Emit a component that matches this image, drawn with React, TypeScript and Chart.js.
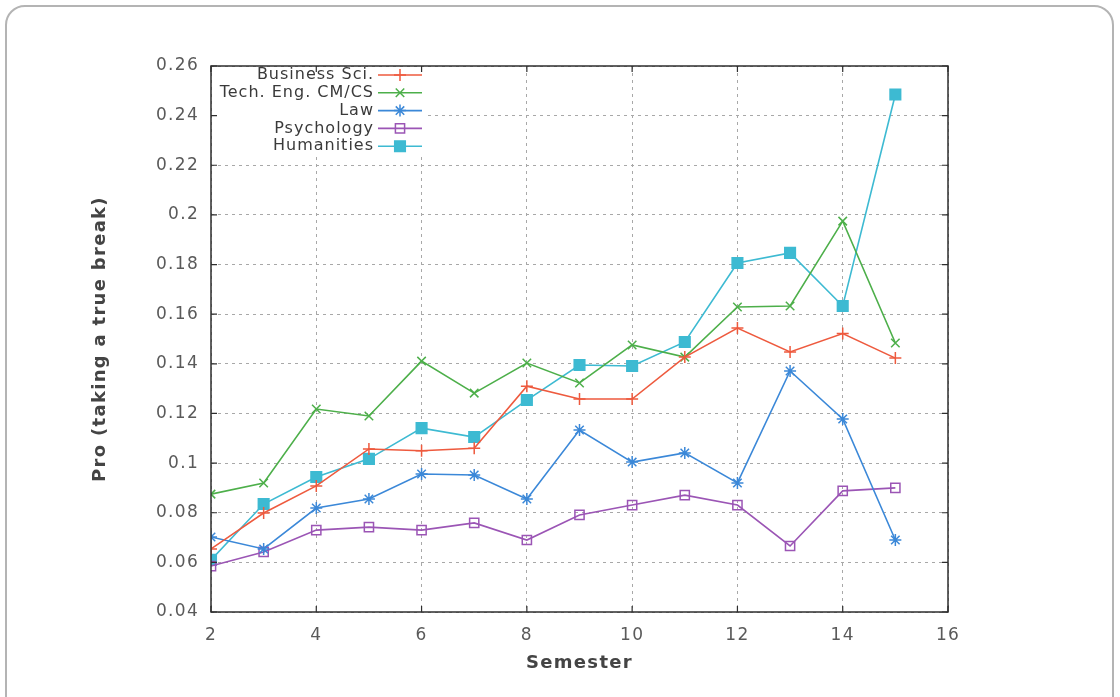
import React, { useEffect, useRef } from "react";
import { Chart, registerables } from "chart.js";
import { drawPoint } from "chart.js/helpers";

Chart.register(...registerables);

const semesters = [2, 3, 4, 5, 6, 7, 8, 9, 10, 11, 12, 13, 14, 15];

const businessSci = [0.0654, 0.0799, 0.0908, 0.1057, 0.105, 0.106, 0.131, 0.1258, 0.1258, 0.1427, 0.1544, 0.1448, 0.1522, 0.1423];
const techEng = [0.0875, 0.092, 0.1218, 0.119, 0.1411, 0.1282, 0.1403, 0.1323, 0.1476, 0.1427, 0.1629, 0.1633, 0.1975, 0.1484];
const law = [0.0702, 0.0654, 0.0819, 0.0855, 0.0956, 0.0952, 0.0855, 0.1133, 0.1004, 0.1041, 0.092, 0.1371, 0.1178, 0.069];
const psychology = [0.0585, 0.0642, 0.073, 0.0742, 0.073, 0.0759, 0.069, 0.0791, 0.0831, 0.0871, 0.0831, 0.0666, 0.0888, 0.09];
const humanities = [0.061, 0.0835, 0.0944, 0.1017, 0.1141, 0.1105, 0.1254, 0.1395, 0.1391, 0.1488, 0.1806, 0.1847, 0.1633, 0.2485];

const seriesNames = ["Business Sci.", "Tech. Eng. CM/CS", "Law", "Psychology", "Humanities"];

const FONT = "'DejaVu Sans', sans-serif";

const toPoints = (vals: number[]) => vals.map((y, i) => ({ x: semesters[i], y }));

// gnuplot-style key: right-aligned labels followed by a line sample with its marker
const keyPlugin = {
  id: "gnuplotKey",
  beforeDatasetsDraw(chart: any) {
    const { ctx, chartArea } = chart;
    ctx.save();
    ctx.fillStyle = "#ffffff";
    ctx.fillRect(chartArea.left + 1, chartArea.top + 1, 216, 89);
    ctx.restore();
  },
  afterDatasetsDraw(chart: any) {
    const { ctx, chartArea } = chart;
    const textRight = chartArea.left + 163;
    const lineStart = chartArea.left + 167;
    const lineEnd = chartArea.left + 211;
    ctx.save();
    ctx.font = `16px ${FONT}`;
    ctx.textAlign = "right";
    ctx.textBaseline = "middle";
    chart.data.datasets.forEach((ds: any, i: number) => {
      const y = chartArea.top + 9 + i * 17.8;
      ctx.fillStyle = "#3a3a3a";
      (ctx as any).letterSpacing = "1px";
      ctx.fillText(ds.label, textRight, y);
      (ctx as any).letterSpacing = "0px";
      ctx.strokeStyle = ds.borderColor;
      ctx.lineWidth = ds.borderWidth;
      ctx.beginPath();
      ctx.moveTo(lineStart, y);
      ctx.lineTo(lineEnd, y);
      ctx.stroke();
      ctx.fillStyle = ds.pointBackgroundColor;
      ctx.strokeStyle = ds.pointBorderColor;
      ctx.lineWidth = ds.pointBorderWidth;
      drawPoint(ctx, { pointStyle: ds.pointStyle, radius: ds.pointRadius, rotation: 0, borderWidth: ds.pointBorderWidth }, (lineStart + lineEnd) / 2, y);
    });
    ctx.restore();
  },
  afterDraw(chart: any) {
    const { ctx, chartArea, scales } = chart;
    const { left, right, top, bottom } = chartArea;
    ctx.save();
    ctx.strokeStyle = "#2e2e2e";
    ctx.lineWidth = 1.5;
    ctx.strokeRect(left, top, right - left, bottom - top);
    ctx.lineWidth = 1.2;
    ctx.beginPath();
    const tl = 6;
    scales.x.ticks.forEach((t: any) => {
      const px = scales.x.getPixelForValue(t.value);
      ctx.moveTo(px, bottom);
      ctx.lineTo(px, bottom - tl);
      ctx.moveTo(px, top);
      ctx.lineTo(px, top + tl);
    });
    scales.y.ticks.forEach((t: any) => {
      const py = scales.y.getPixelForValue(t.value);
      ctx.moveTo(left, py);
      ctx.lineTo(left + tl, py);
      ctx.moveTo(right, py);
      ctx.lineTo(right - tl, py);
    });
    ctx.stroke();
    ctx.restore();
  },
};

// slight tracking for the axis texts
const spacingPlugin = {
  id: "letterSpacing",
  beforeDraw(chart: any) {
    (chart.ctx as any).letterSpacing = "1.3px";
  },
};

export default function App() {
  const canvasRef = useRef<HTMLCanvasElement | null>(null);

  useEffect(() => {
    if (!canvasRef.current) return;
    const mk = (i: number, vals: number[], color: string, style: string, radius: number, fill: string) => ({
      label: seriesNames[i],
      data: toPoints(vals),
      borderColor: color,
      backgroundColor: color,
      borderWidth: 1.6,
      pointStyle: style,
      pointRadius: radius,
      pointHoverRadius: radius,
      pointBackgroundColor: fill,
      pointBorderColor: color,
      pointBorderWidth: 1.5,
      tension: 0,
    });
    const chart = new Chart(canvasRef.current, {
      type: "line",
      data: {
        datasets: [
          mk(0, businessSci, "#ee5a3e", "cross", 6, "#ee5a3e"),
          mk(1, techEng, "#4daf4a", "crossRot", 6, "#4daf4a"),
          mk(2, law, "#3b88d8", "star", 6, "#3b88d8"),
          mk(3, psychology, "#9b55b5", "rect", 6.5, "rgba(255,255,255,0)"),
          mk(4, humanities, "#3dbad2", "rect", 7.5, "#3dbad2"),
        ],
      },
      options: {
        animation: false,
        responsive: false,
        maintainAspectRatio: false,
        layout: { padding: { left: 90, right: 172, top: 66, bottom: 23 } },
        plugins: { legend: { display: false }, tooltip: { enabled: false } },
        scales: {
          x: {
            type: "linear",
            min: 2,
            max: 16,
            ticks: { stepSize: 2, padding: 13, color: "#5a5a5a", font: { family: FONT, size: 17 } },
            grid: { drawTicks: false, color: "#a8a8a8", lineWidth: 1 },
            border: { display: false, dash: [3, 4] },
            title: { display: true, text: "Semester", color: "#444", padding: 0, font: { family: FONT, size: 18, weight: "bold" } },
            afterFit: (s: any) => { s.height = 62; },
          },
          y: {
            type: "linear",
            min: 0.04,
            max: 0.26,
            ticks: {
              stepSize: 0.02,
              padding: 12,
              color: "#5a5a5a",
              font: { family: FONT, size: 17 },
              callback: (v: any) => String(+Number(v).toFixed(2)),
            },
            grid: { drawTicks: false, color: "#a8a8a8", lineWidth: 1 },
            border: { display: false, dash: [3, 4] },
            title: { display: true, text: "Pro (taking a true break)", color: "#444", padding: 0, font: { family: FONT, size: 18, weight: "bold" } },
            afterFit: (s: any) => { s.width = 121; },
          },
        },
      },
      plugins: [spacingPlugin, keyPlugin],
    } as any);
    return () => chart.destroy();
  }, []);

  return (
    <div style={{ position: "absolute", left: 0, top: 0, width: 1120, height: 697, background: "#fff", overflow: "hidden" }}>
      <div
        style={{
          position: "absolute",
          left: 5,
          top: 5,
          width: 1109,
          height: 740,
          border: "2px solid #b4b4b4",
          borderRadius: 20,
          boxSizing: "border-box",
        }}
      />
      <canvas ref={canvasRef} width={1120} height={697} style={{ position: "absolute", left: 0, top: 0 }} />
    </div>
  );
}
